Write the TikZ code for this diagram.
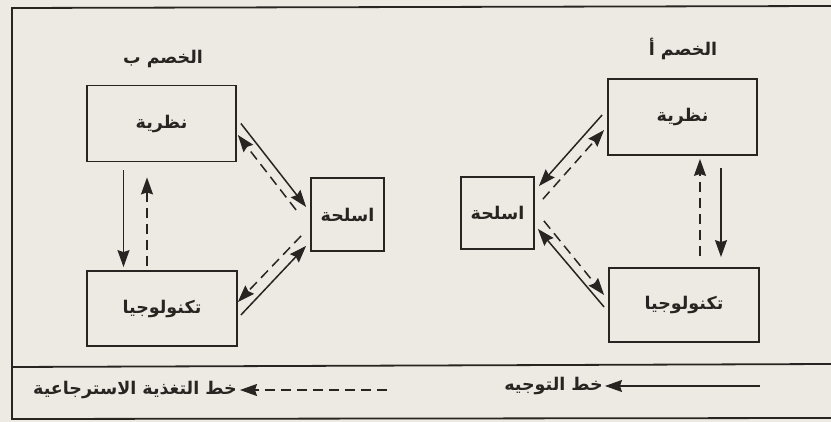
\documentclass[tikz,border=0pt]{standalone}
\usepackage{fontspec}
\newfontfamily\arabicfont[Script=Arabic]{DejaVu Sans}
\TeXXeTstate=1
\usetikzlibrary{arrows.meta}

\definecolor{paper}{RGB}{237,234,227}
\definecolor{ink}{RGB}{40,36,34}

\newcommand{\ar}[1]{{\arabicfont\bfseries\beginR #1\endR}}

\tikzset{
  frameline/.style={draw=ink, line width=1.8pt},
  labelfont/.style={text=ink, font=\fontsize{17.5}{20}\selectfont},
  widebox/.style={draw=ink, line width=1.8pt, inner sep=0pt, labelfont,
    minimum width=149pt, minimum height=76pt},
  smallbox/.style={draw=ink, line width=1.8pt, inner sep=0pt, labelfont,
    minimum width=73pt, minimum height=73pt},
  title/.style={inner sep=0pt, labelfont},
  legend/.style={inner sep=0pt, labelfont},
  tip/.style={-{Stealth[length=17pt,width=12pt,inset=2pt]}},
  guide/.style={draw=ink, line width=1.5pt, tip},
  feedback/.style={draw=ink, line width=1.5pt, dash pattern=on 10pt off 6pt, tip}
}

\begin{document}
\begin{tikzpicture}[x=1pt,y=-1pt]
  % page and frame
  \fill[paper] (0,0) rectangle (831,422);
  \useasboundingbox (0,0) rectangle (831,422);
  \draw[frameline] (831,6) -- (12,8) -- (12,419) -- (831,418);
  \draw[frameline] (12,367) -- (831,364);

  % party B (left)
  \node[title] (titleB) at (163,59) {\ar{الخصم ب}};
  \node[widebox] (nB) at (161.5,123.5) {\ar{نظرية}};
  \node[widebox, minimum width=150pt, minimum height=75pt] (tB) at (162,308.5) {\ar{تكنولوجيا}};
  \node[smallbox] (wB) at (347.5,214.5) {\ar{اسلحة}};

  % party A (right)
  \node[title] (titleA) at (683,49) {\ar{الخصم أ}};
  \node[widebox] (nA) at (682.5,117) {\ar{نظرية}};
  \node[widebox, minimum width=150pt, minimum height=74pt] (tA) at (684,305) {\ar{تكنولوجيا}};
  \node[smallbox, minimum height=72pt] (wA) at (497.5,213) {\ar{اسلحة}};

  % party B links
  \draw[guide] ([xshift=4pt]nB.east) -- ([xshift=-4pt,yshift=7.5pt]wB.west);
  \draw[feedback] ([xshift=-14pt,yshift=4.5pt]wB.west) -- ([xshift=1pt,yshift=-11.5pt]nB.east);
  \draw[guide] ([xshift=3pt,yshift=-6.5pt]tB.east) -- ([xshift=-4pt,yshift=6pt]wB.south west);
  \draw[feedback] ([xshift=-9pt,yshift=16pt]wB.south west) -- ([yshift=6.5pt]tB.east);
  \draw[guide] ([xshift=-38pt,yshift=-8pt]nB.south) -- ([xshift=-38.5pt,yshift=3pt]tB.north);
  \draw[feedback] ([xshift=-15pt,yshift=4pt]tB.north) -- ([xshift=-14.5pt,yshift=-15pt]nB.south);

  % party A links
  \draw[guide] ([xshift=-5pt,yshift=2pt]nA.west) -- ([xshift=4pt,yshift=-10pt]wA.north east);
  \draw[feedback] ([xshift=8pt,yshift=-23pt]wA.north east) -- ([xshift=-3pt,yshift=-13pt]nA.west);
  \draw[guide] ([xshift=-4pt,yshift=-2pt]tA.west) -- ([xshift=3pt,yshift=21pt]wA.south east);
  \draw[feedback] ([xshift=9pt,yshift=29pt]wA.south east) -- ([xshift=-4pt,yshift=10pt]tA.west);
  \draw[feedback] ([xshift=16pt,yshift=11pt]tA.north) -- ([xshift=17.5pt,yshift=-3pt]nA.south);
  \draw[guide] ([xshift=38.5pt,yshift=-12pt]nA.south) -- ([xshift=37pt,yshift=10pt]tA.north);

  % key
  \node[legend, anchor=east] (keyG) at (603,386) {\ar{خط التوجيه}};
  \coordinate (keyGstart) at (760,386);
  \draw[guide] (keyGstart) -- ([xshift=2pt]keyG.east);
  \node[legend, anchor=east] (keyF) at (237,390) {\ar{خط التغذية الاسترجاعية}};
  \coordinate (keyFstart) at (387,390);
  \draw[feedback] (keyFstart) -- ([xshift=3pt]keyF.east);
\end{tikzpicture}
\end{document}
